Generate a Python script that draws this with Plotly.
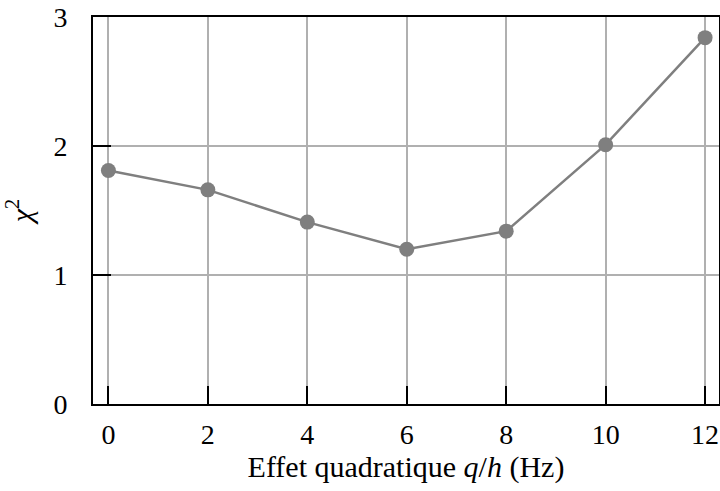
import plotly.graph_objects as go

q_over_h = [0, 2, 4, 6, 8, 10, 12]
chi2 = [1.81, 1.66, 1.41, 1.20, 1.34, 2.01, 2.84]
x_ticks = [0, 2, 4, 6, 8, 10, 12]
y_ticks = [0, 1, 2, 3]

serif = "Liberation Serif, DejaVu Serif, serif"

fig = go.Figure(go.Scatter(
    x=q_over_h, y=chi2, mode='lines+markers',
    line=dict(color='#7f7f7f', width=2.5),
    marker=dict(color='#7f7f7f', size=15),
    showlegend=False))

fig.update_xaxes(range=[-0.31, 12.28], tickvals=x_ticks, automargin=False,
                 ticks='inside', ticklen=18, tickwidth=2, tickcolor='black',
                 showline=True, linecolor='black', linewidth=2, mirror=True,
                 showgrid=True, gridcolor='#b0b0b0', gridwidth=1.5, zeroline=False,
                 ticklabelstandoff=4, tickfont=dict(size=28),
                 title=dict(text='Effet quadratique <i>q</i>/<i>h</i> (Hz)', standoff=6,
                            font=dict(size=30, color='black', family=serif)))
fig.update_yaxes(range=[0, 3], tickvals=y_ticks, automargin=False,
                 ticks='inside', ticklen=18, tickwidth=2, tickcolor='black',
                 showline=True, linecolor='black', linewidth=2, mirror=True,
                 showgrid=True, gridcolor='#b0b0b0', gridwidth=1.5, zeroline=False,
                 ticklabelstandoff=18, tickfont=dict(size=28),
                 title=dict(text='<i>χ</i><sup>2</sup>', standoff=14,
                            font=dict(size=30, color='black', family=serif)))

fig.update_layout(width=720, height=491, plot_bgcolor='white', paper_bgcolor='white',
                  margin=dict(l=93, r=1, t=17, b=87),
                  font=dict(family=serif, size=28, color='black'))

fig.write_html("out.html", config={'displayModeBar': False},
               post_script="document.body.style.margin='0px';")
